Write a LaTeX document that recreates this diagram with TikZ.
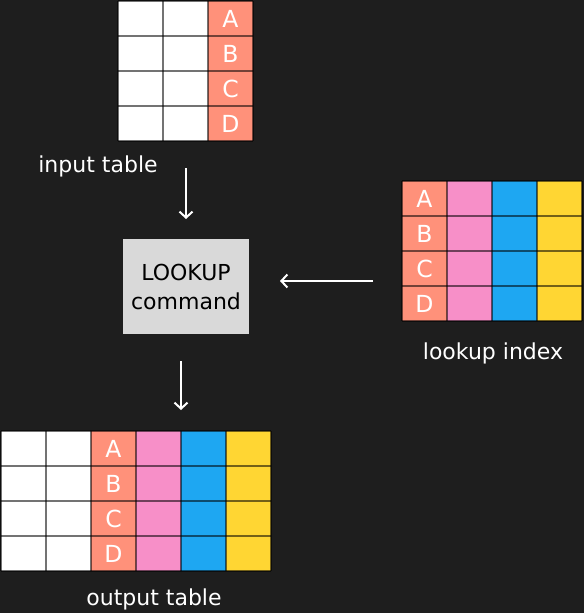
\documentclass[tikz,border=0pt]{standalone}
\usepackage{fontspec}
\setmainfont{DejaVu Sans}
\usetikzlibrary{arrows.meta}
\definecolor{bg}{HTML}{1E1E1E}
\definecolor{salmon}{HTML}{FF917A}
\definecolor{pinkc}{HTML}{F78FC8}
\definecolor{bluec}{HTML}{1EA7F2}
\definecolor{yellowc}{HTML}{FFD633}
\definecolor{boxgray}{HTML}{D9D9D9}
\begin{document}
\begin{tikzpicture}[x=1pt,y=-1pt,
  cell/.style={fill=#1, draw=none, minimum width=45pt, minimum height=35pt, inner sep=0pt, outer sep=0pt, anchor=north west, text=white, font=\fontsize{23.5}{26}\selectfont},
  gridline/.style={draw=black, draw opacity=0.55, line width=2pt},
  lbl/.style={text=white, font=\fontsize{22}{26}\selectfont, inner sep=0pt},
  arr/.style={draw=white, line width=2pt, -{Straight Barb[length=6pt,width=13pt,line width=2pt]}}]
\fill[bg] (0,0) rectangle (584,613);
\useasboundingbox (0,0) rectangle (584,613);
% input table
\foreach \r/\l in {0/A,1/B,2/C,3/D}{
  \node[cell=white] (in-\r-0) at (118,1+35*\r) {};
  \node[cell=white] (in-\r-1) at (163,1+35*\r) {};
  \node[cell=salmon] (in-\r-2) at (208,1+35*\r) {\l};
}
\foreach \r in {0,...,4} \draw[gridline] (118,1+35*\r) -- (253,1+35*\r);
\foreach \c in {0,...,3} \draw[gridline] (118+45*\c,1) -- (118+45*\c,141);
% lookup index
\foreach \r/\l in {0/A,1/B,2/C,3/D}{
  \node[cell=salmon] (ix-\r-0) at (402,181+35*\r) {\l};
  \node[cell=pinkc] (ix-\r-1) at (447,181+35*\r) {};
  \node[cell=bluec] (ix-\r-2) at (492,181+35*\r) {};
  \node[cell=yellowc] (ix-\r-3) at (537,181+35*\r) {};
}
\foreach \r in {0,...,4} \draw[gridline] (402,181+35*\r) -- (582,181+35*\r);
\foreach \c in {0,...,4} \draw[gridline] (402+45*\c,181) -- (402+45*\c,321);
% output table
\foreach \r/\l in {0/A,1/B,2/C,3/D}{
  \node[cell=white] (out-\r-0) at (1,431+35*\r) {};
  \node[cell=white] (out-\r-1) at (46,431+35*\r) {};
  \node[cell=salmon] (out-\r-2) at (91,431+35*\r) {\l};
  \node[cell=pinkc] (out-\r-3) at (136,431+35*\r) {};
  \node[cell=bluec] (out-\r-4) at (181,431+35*\r) {};
  \node[cell=yellowc] (out-\r-5) at (226,431+35*\r) {};
}
\foreach \r in {0,...,4} \draw[gridline] (1,431+35*\r) -- (271,431+35*\r);
\foreach \c in {0,...,6} \draw[gridline] (1+45*\c,431) -- (1+45*\c,571);
% lookup command box
\node[fill=boxgray, minimum width=126pt, minimum height=95pt, inner sep=0pt, align=center, font=\fontsize{22}{29}\selectfont, text=black] (lk) at (186,286.5) {LOOKUP\\command};
% labels
\node[lbl] (inlbl) at (98,166) {input table};
\node[lbl] (ixlbl) at (493,353) {lookup index};
\node[lbl] (outlbl) at (154,599) {output table};
% arrows
\coordinate (a1s) at (186,168);
\coordinate (a1e) at (186,219);
\coordinate (a2s) at (373,281);
\coordinate (a2e) at (280,281);
\coordinate (a3s) at (181,361);
\coordinate (a3e) at (181,410);
\draw[arr] (a1s) -- (a1e);
\draw[arr] (a2s) -- (a2e);
\draw[arr] (a3s) -- (a3e);
\end{tikzpicture}
\end{document}
